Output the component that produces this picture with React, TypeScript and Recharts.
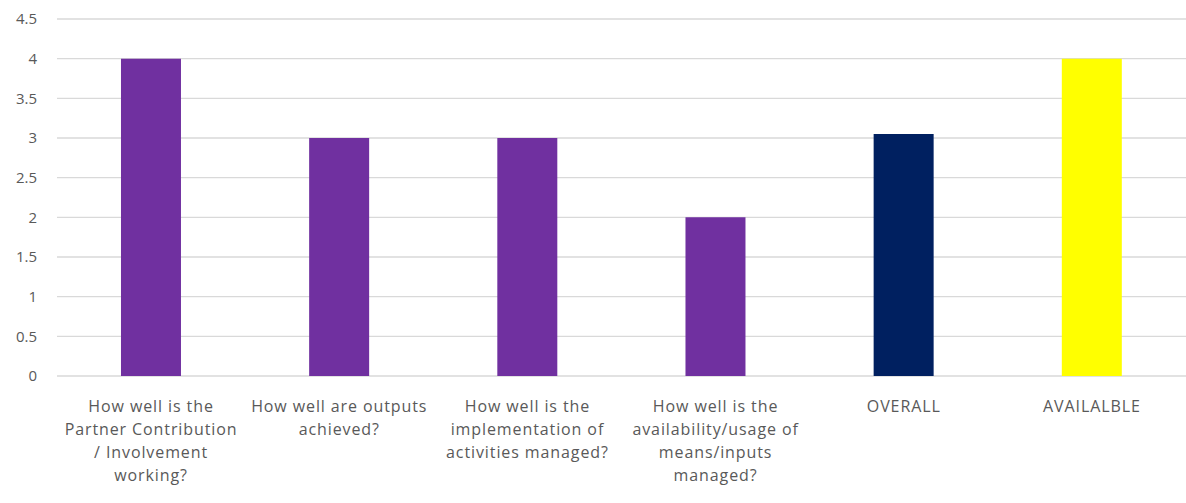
import { BarChart, Bar, XAxis, YAxis, CartesianGrid, Cell } from "recharts";

const categories = [
  "How well is the\nPartner Contribution\n/ Involvement\nworking?",
  "How well are outputs\nachieved?",
  "How well is the\nimplementation of\nactivities managed?",
  "How well is the\navailability/usage of\nmeans/inputs\nmanaged?",
  "OVERALL",
  "AVAILALBLE",
];
const scores = [4, 3, 3, 2, 3.05, 4];
const barColors = ["#7030A0", "#7030A0", "#7030A0", "#7030A0", "#002060", "#FFFF00"];
const yTicks = [0, 0.5, 1, 1.5, 2, 2.5, 3, 3.5, 4, 4.5];

const data = categories.map((name, i) => ({ name, score: scores[i] }));

const fontFamily = "'Open Sans', 'Noto Sans', sans-serif";

function CategoryTick(props: any) {
  const { x, y, payload } = props;
  const lines = String(payload.value).split("\n");
  return (
    <text
      x={x}
      y={y}
      textAnchor="middle"
      fill="#595959"
      fontSize={16}
      letterSpacing={0.9}
      fontFamily={fontFamily}
    >
      {lines.map((line, i) => (
        <tspan key={i} x={x} dy={i === 0 ? 34 : 23}>
          {line}
        </tspan>
      ))}
    </text>
  );
}

export default function App() {
  return (
    <div style={{ position: "absolute", left: 0, top: 0, background: "#fff" }}>
      <BarChart
        width={1186}
        height={503}
        data={data}
        margin={{ top: 19, right: 0, left: 0, bottom: 0 }}
        barCategoryGap="34%"
      >
        <CartesianGrid vertical={false} stroke="#d9d9d9" strokeWidth={1.3} />
        <XAxis
          dataKey="name"
          axisLine={false}
          tickLine={false}
          height={127}
          interval={0}
          tickSize={0}
          tick={<CategoryTick />}
        />
        <YAxis
          domain={[0, 4.5]}
          ticks={yTicks}
          width={57}
          axisLine={false}
          tickLine={false}
          tickSize={0}
          tickMargin={20}
          tick={{ fill: "#595959", fontSize: 15, fontFamily }}
        />
        <Bar dataKey="score" isAnimationActive={false}>
          {data.map((_, i) => (
            <Cell key={i} fill={barColors[i]} />
          ))}
        </Bar>
      </BarChart>
    </div>
  );
}
